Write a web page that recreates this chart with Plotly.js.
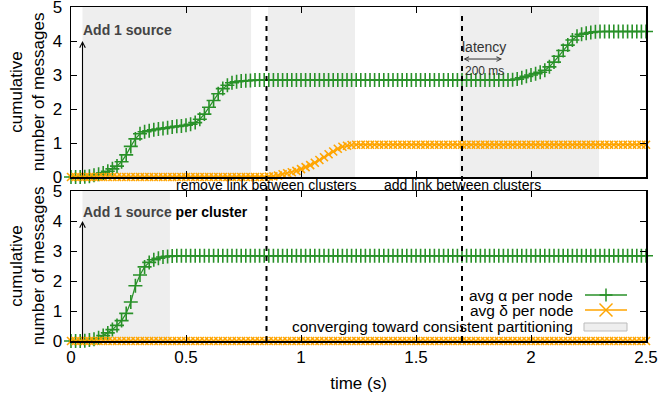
<!DOCTYPE html>
<html>
<head>
<meta charset="utf-8">
<script src="https://cdn.plot.ly/plotly-3.0.1.min.js"></script>
<style>
html,body{margin:0;padding:0;background:#fff;}
#chart{width:660px;height:401px;}
</style>
</head>
<body>
<div id="chart"></div>
<script>
// ---------------- data ----------------
const time = [0,0.02,0.04,0.06,0.08,0.1,0.12,0.14,0.16,0.18,
0.2,0.22,0.24,0.26,0.28,0.3,0.32,0.34,0.36,0.38,
0.4,0.42,0.44,0.46,0.48,0.5,0.52,0.54,0.56,0.58,
0.6,0.62,0.64,0.66,0.68,0.7,0.72,0.74,0.76,0.78,
0.8,0.82,0.84,0.86,0.88,0.9,0.92,0.94,0.96,0.98,
1,1.02,1.04,1.06,1.08,1.1,1.12,1.14,1.16,1.18,
1.2,1.22,1.24,1.26,1.28,1.3,1.32,1.34,1.36,1.38,
1.4,1.42,1.44,1.46,1.48,1.5,1.52,1.54,1.56,1.58,
1.6,1.62,1.64,1.66,1.68,1.7,1.72,1.74,1.76,1.78,
1.8,1.82,1.84,1.86,1.88,1.9,1.92,1.94,1.96,1.98,
2,2.02,2.04,2.06,2.08,2.1,2.12,2.14,2.16,2.18,
2.2,2.22,2.24,2.26,2.28,2.3,2.32,2.34,2.36,2.38,
2.4,2.42,2.44,2.46,2.48,2.5];

// top panel: "Add 1 source"
const topAlpha = [0,0,0,0.01,0.02,0.05,0.08,0.12,0.17,0.24,
0.32,0.45,0.65,0.9,1.12,1.27,1.33,1.36,1.39,1.41,
1.43,1.45,1.47,1.49,1.5,1.52,1.55,1.6,1.7,1.85,
2.05,2.25,2.45,2.6,2.7,2.77,2.8,2.82,2.83,2.84,
2.85,2.85,2.85,2.85,2.85,2.85,2.85,2.85,2.85,2.85,
2.85,2.85,2.85,2.85,2.85,2.85,2.85,2.85,2.85,2.85,
2.85,2.85,2.85,2.85,2.85,2.85,2.85,2.85,2.85,2.85,
2.85,2.85,2.85,2.85,2.85,2.85,2.85,2.85,2.85,2.85,
2.85,2.85,2.85,2.85,2.85,2.85,2.85,2.85,2.85,2.85,
2.85,2.85,2.85,2.85,2.85,2.85,2.86,2.88,2.92,2.96,
3.0,3.04,3.08,3.14,3.24,3.38,3.55,3.72,3.88,4.03,
4.14,4.2,4.23,4.25,4.27,4.28,4.28,4.28,4.28,4.28,
4.28,4.28,4.28,4.28,4.28,4.28];

const topDelta = [0,0,0,0,0,0,0,0,0,0,
0,0,0,0,0,0,0,0,0,0,
0,0,0,0,0,0,0,0,0,0,
0,0,0,0,0,0,0,0,0,0,
0,0,0,0.01,0.02,0.04,0.08,0.11,0.14,0.18,
0.23,0.29,0.35,0.42,0.5,0.58,0.67,0.75,0.83,0.89,
0.92,0.94,0.95,0.95,0.95,0.95,0.95,0.95,0.95,0.95,
0.95,0.95,0.95,0.95,0.95,0.95,0.95,0.95,0.95,0.95,
0.95,0.95,0.95,0.95,0.95,0.95,0.95,0.95,0.95,0.95,
0.95,0.95,0.95,0.95,0.95,0.95,0.95,0.95,0.95,0.95,
0.95,0.95,0.95,0.95,0.95,0.95,0.95,0.95,0.95,0.95,
0.95,0.95,0.95,0.95,0.95,0.95,0.95,0.95,0.95,0.95,
0.95,0.95,0.95,0.95,0.95,0.95];

// bottom panel: "Add 1 source per cluster"
const bottomAlpha = [0,0,0,0.01,0.03,0.06,0.11,0.18,0.27,0.38,
0.52,0.68,0.92,1.3,1.84,2.2,2.47,2.62,2.71,2.76,
2.8,2.82,2.83,2.84,2.84,2.84,2.84,2.84,2.84,2.84,
2.84,2.84,2.84,2.84,2.84,2.84,2.84,2.84,2.84,2.84,
2.84,2.84,2.84,2.84,2.84,2.84,2.84,2.84,2.84,2.84,
2.84,2.84,2.84,2.84,2.84,2.84,2.84,2.84,2.84,2.84,
2.84,2.84,2.84,2.84,2.84,2.84,2.84,2.84,2.84,2.84,
2.84,2.84,2.84,2.84,2.84,2.84,2.84,2.84,2.84,2.84,
2.84,2.84,2.84,2.84,2.84,2.84,2.84,2.84,2.84,2.84,
2.84,2.84,2.84,2.84,2.84,2.84,2.84,2.84,2.84,2.84,
2.84,2.84,2.84,2.84,2.84,2.84,2.84,2.84,2.84,2.84,
2.84,2.84,2.84,2.84,2.84,2.84,2.84,2.84,2.84,2.84,
2.84,2.84,2.84,2.84,2.84,2.84];

const bottomDelta = [0,0,0,0,0,0,0,0,0,0,
0,0,0,0,0,0,0,0,0,0,
0,0,0,0,0,0,0,0,0,0,
0,0,0,0,0,0,0,0,0,0,
0,0,0,0,0,0,0,0,0,0,
0,0,0,0,0,0,0,0,0,0,
0,0,0,0,0,0,0,0,0,0,
0,0,0,0,0,0,0,0,0,0,
0,0,0,0,0,0,0,0,0,0,
0,0,0,0,0,0,0,0,0,0,
0,0,0,0,0,0,0,0,0,0,
0,0,0,0,0,0,0,0,0,0,
0,0,0,0,0,0];

// convergence periods (shaded)
const topShadeStart = [0.05, 0.857, 1.69];
const topShadeEnd   = [0.783, 1.235, 2.296];
const bottomShadeStart = [0.05];
const bottomShadeEnd   = [0.43];

// events
const sourceTime = 0.05;
const eventTimes = [0.85, 1.7];
const eventLabels = ["remove link between clusters", "add link between clusters"];
const latencyMs = 200;

const seriesNames = ["avg \u03b1 per node", "avg \u03b4 per node"];
const shadeName = "converging toward consistent partitioning";
const xTicks = [0, 0.5, 1, 1.5, 2, 2.5];
const xTickLabels = ["0", "0.5", "1", "1.5", "2", "2.5"];
const yTicks = [0, 1, 2, 3, 4, 5];

// ---------------- style ----------------
const GREEN = "rgb(40,145,40)";
const GREEN_M = "rgba(44,150,44,0.5)";
const ORANGE = "rgb(255,165,0)";
const ORANGE_M = "rgba(255,165,0,0.7)";
const SHADE = "#eeeeee";
const FONT = "Liberation Sans, Arial, sans-serif";

function alphaTrace(y, xa, ya) {
  return {x: time, y: y, xaxis: xa, yaxis: ya, type: "scatter", mode: "lines+markers",
    cliponaxis: false, showlegend: false, name: seriesNames[0],
    line: {color: GREEN, width: 1.2},
    marker: {symbol: "cross-thin-open", size: 10, line: {color: GREEN_M, width: 1.6}}};
}
function deltaTrace(y, xa, ya) {
  return {x: time, y: y, xaxis: xa, yaxis: ya, type: "scatter", mode: "lines+markers",
    cliponaxis: false, showlegend: false, name: seriesNames[1],
    line: {color: ORANGE, width: 1.2},
    marker: {symbol: "x-thin-open", size: 8, line: {color: ORANGE_M, width: 1.6}}};
}

const data = [
  alphaTrace(topAlpha, "x", "y"),
  deltaTrace(topDelta, "x", "y"),
  alphaTrace(bottomAlpha, "x2", "y2"),
  deltaTrace(bottomDelta, "x2", "y2")
];

// layout geometry (px)
const W = 660, H = 401, ML = 71, MR = 14, MT = 7, MB = 60;
const PW = W - ML - MR, PH = H - MT - MB;
function px2paperX(p) { return (p - ML) / PW; }
function px2paperY(p) { return (H - MB - p) / PH; }

const axisCommon = {
  range: [0, 2.5], tickvals: xTicks, ticktext: xTickLabels,
  ticks: "inside", ticklen: 6, tickwidth: 1, tickcolor: "#000",
  showline: true, linecolor: "#000", linewidth: 1.5, mirror: "ticks",
  showgrid: false, zeroline: false, fixedrange: true,
  tickfont: {family: FONT, size: 17, color: "#000"}
};
const yCommon = {
  range: [0, 5], tickvals: yTicks,
  ticks: "inside", ticklen: 6, tickwidth: 1, tickcolor: "#000",
  showline: true, linecolor: "#000", linewidth: 1.5, mirror: "ticks",
  showgrid: false, zeroline: false, fixedrange: true,
  ticklabelstandoff: 4, ticklabeloverflow: "allow",
  tickfont: {family: FONT, size: 17, color: "#000"},
  title: {text: "cumulative<br>number of messages", font: {family: FONT, size: 17, color: "#000"}, standoff: 3}
};

const topDomain = [px2paperY(177), 1];
const botDomain = [0, px2paperY(191)];

const shapes = [];
topShadeStart.forEach((s, i) => shapes.push({type: "rect", layer: "below", xref: "x", yref: "y domain",
  x0: s, x1: topShadeEnd[i], y0: 0, y1: 1, fillcolor: SHADE, line: {width: 0}}));
bottomShadeStart.forEach((s, i) => shapes.push({type: "rect", layer: "below", xref: "x2", yref: "y2 domain",
  x0: s, x1: bottomShadeEnd[i], y0: 0, y1: 1, fillcolor: SHADE, line: {width: 0}}));
eventTimes.forEach(t => shapes.push({type: "line", layer: "above", xref: "x", yref: "paper",
  x0: t, x1: t, y0: 0, y1: px2paperY(15), line: {color: "#000", width: 2, dash: "5px,5px"}}));

// custom legend (text left, sample right, as in the original)
const legTextX = px2paperX(575);
const legS0 = px2paperX(585), legS1 = px2paperX(627), legMid = px2paperX(606);
const legY = [px2paperY(295), px2paperY(310), px2paperY(326.5)];
const hx = 6.5 / PW, hy = 6.5 / PH;
shapes.push({type: "line", xref: "paper", yref: "paper", x0: legS0, x1: legS1, y0: legY[0], y1: legY[0], line: {color: GREEN, width: 1.3}});
shapes.push({type: "line", xref: "paper", yref: "paper", x0: legMid - hx, x1: legMid + hx, y0: legY[0], y1: legY[0], line: {color: GREEN, width: 1.5}});
shapes.push({type: "line", xref: "paper", yref: "paper", x0: legMid, x1: legMid, y0: legY[0] - hy, y1: legY[0] + hy, line: {color: GREEN, width: 1.5}});
shapes.push({type: "line", xref: "paper", yref: "paper", x0: legS0, x1: legS1, y0: legY[1], y1: legY[1], line: {color: ORANGE, width: 1.3}});
shapes.push({type: "line", xref: "paper", yref: "paper", x0: legMid - hx, x1: legMid + hx, y0: legY[1] - hy, y1: legY[1] + hy, line: {color: ORANGE, width: 1.5}});
shapes.push({type: "line", xref: "paper", yref: "paper", x0: legMid - hx, x1: legMid + hx, y0: legY[1] + hy, y1: legY[1] - hy, line: {color: ORANGE, width: 1.5}});
shapes.push({type: "rect", xref: "paper", yref: "paper", x0: px2paperX(584), x1: px2paperX(627),
  y0: px2paperY(331), y1: px2paperY(323), fillcolor: SHADE, line: {color: "#bbbbbb", width: 1}});

const annotations = [
  // source arrows
  {xref: "x", yref: "y", axref: "x", ayref: "y", x: sourceTime, y: 4, ax: sourceTime, ay: 0, text: "",
   showarrow: true, arrowhead: 5, arrowsize: 1, arrowwidth: 1.1, arrowcolor: "#000", standoff: 0, startstandoff: 0},
  {xref: "x2", yref: "y2", axref: "x2", ayref: "y2", x: sourceTime, y: 4, ax: sourceTime, ay: 0, text: "",
   showarrow: true, arrowhead: 5, arrowsize: 1, arrowwidth: 1.1, arrowcolor: "#000", standoff: 0, startstandoff: 0},
  {xref: "x", yref: "y", x: sourceTime, y: 4.32, xanchor: "left", yanchor: "middle", showarrow: false, xshift: -2,
   text: "<b>Add 1 source</b>", font: {family: FONT, size: 14, color: "#444"}},
  {xref: "x2", yref: "y2", x: sourceTime, y: 4.31, xanchor: "left", yanchor: "middle", showarrow: false, xshift: -2,
   text: "<b><span style='color:#444'>Add 1 source</span> per cluster</b>", font: {family: FONT, size: 14, color: "#000"}},
  // event labels
  {xref: "x", yref: "paper", x: eventTimes[0], y: px2paperY(184.5), xanchor: "center", yanchor: "middle", showarrow: false,
   text: eventLabels[0], font: {family: FONT, size: 14, color: "#000"}},
  {xref: "x", yref: "paper", x: eventTimes[1], y: px2paperY(184.5), xanchor: "center", yanchor: "middle", showarrow: false,
   text: eventLabels[1], font: {family: FONT, size: 14, color: "#000"}},
  // latency
  {xref: "x", yref: "y", x: eventTimes[1] + 0.096, y: 3.83, xanchor: "center", yanchor: "middle", showarrow: false,
   text: "latency", font: {family: FONT, size: 14, color: "#333"}},
  {xref: "x", yref: "y", x: eventTimes[1] + 0.098, y: 3.13, xanchor: "center", yanchor: "middle", showarrow: false,
   text: latencyMs + " ms", font: {family: FONT, size: 12, color: "#333"}},
  {xref: "x", yref: "y", axref: "x", ayref: "y", x: eventTimes[1] + 0.174, y: 3.47, ax: eventTimes[1], ay: 3.47, text: "",
   showarrow: true, arrowhead: 5, arrowside: "end+start", arrowsize: 0.9, arrowwidth: 1, arrowcolor: "#333", standoff: 0, startstandoff: 0},
  // legend texts
  {xref: "paper", yref: "paper", x: legTextX, y: legY[0], xanchor: "right", yanchor: "middle", showarrow: false,
   text: seriesNames[0], font: {family: FONT, size: 15.5, color: "#000"}},
  {xref: "paper", yref: "paper", x: legTextX, y: legY[1], xanchor: "right", yanchor: "middle", showarrow: false,
   text: seriesNames[1], font: {family: FONT, size: 15.5, color: "#000"}},
  {xref: "paper", yref: "paper", x: legTextX, y: legY[2], xanchor: "right", yanchor: "middle", showarrow: false,
   text: shadeName, font: {family: FONT, size: 15.5, color: "#000"}}
];

const layout = {
  width: W, height: H,
  margin: {l: ML, r: MR, t: MT, b: MB, pad: 0},
  paper_bgcolor: "#fff", plot_bgcolor: "rgba(0,0,0,0)",
  showlegend: false,
  font: {family: FONT, color: "#000"},
  xaxis: Object.assign({}, axisCommon, {domain: [0, 1], anchor: "y", showticklabels: false}),
  yaxis: Object.assign({}, yCommon, {domain: topDomain, anchor: "x"}),
  xaxis2: Object.assign({}, axisCommon, {domain: [0, 1], anchor: "y2",
    title: {text: "time (s)", font: {family: FONT, size: 17, color: "#000"}, standoff: 11}}),
  yaxis2: Object.assign({}, yCommon, {domain: botDomain, anchor: "x2"}),
  shapes: shapes,
  annotations: annotations
};

Plotly.newPlot("chart", data, layout, {staticPlot: true, displayModeBar: false});
</script>
</body>
</html>
